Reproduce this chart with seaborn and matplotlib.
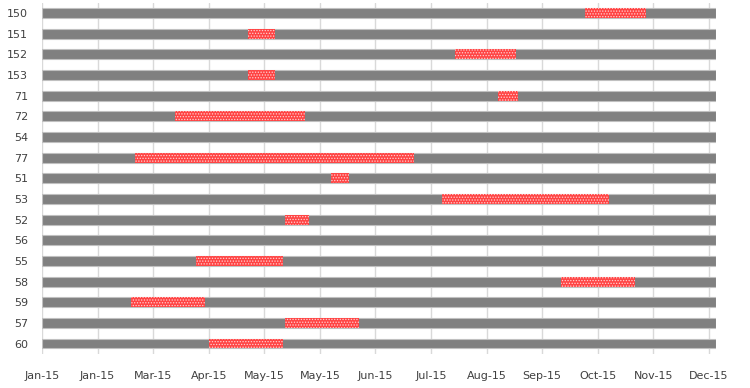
import pandas as pd
import matplotlib
matplotlib.use("Agg")
import matplotlib.pyplot as plt
import matplotlib.ticker as mticker
import seaborn as sns

# rows top to bottom
rows = ["150", "151", "152", "153", "71", "72", "54", "77", "51", "53",
        "52", "56", "55", "58", "59", "57", "60"]

# red segment per row (None = no segment)
seg_start = ["2015-10-21", "2015-04-22", "2015-08-12", "2015-04-22", "2015-09-04",
             "2015-03-14", None, "2015-02-20", "2015-06-06", "2015-08-05",
             "2015-05-12", None, "2015-03-25", "2015-10-08", "2015-02-18",
             "2015-05-12", "2015-04-01"]
seg_end = ["2015-11-23", "2015-05-07", "2015-09-14", "2015-05-07", "2015-09-15",
           "2015-05-23", None, "2015-07-21", "2015-06-16", "2015-11-03",
           "2015-05-25", None, "2015-05-11", "2015-11-17", "2015-03-30",
           "2015-06-21", "2015-05-11"]

axis_start = pd.Timestamp("2015-01-01")
axis_end = pd.Timestamp("2015-12-31")
tick_step = 30  # days

full_len = (axis_end - axis_start).days
df = pd.DataFrame({"row": rows, "full": full_len})

sns.set_style("white")
plt.rcParams["font.family"] = ["DejaVu Sans"]
plt.rcParams["hatch.linewidth"] = 0.6

fig, ax = plt.subplots(figsize=(7.5, 3.88), dpi=100)
fig.subplots_adjust(left=0.056, right=0.955, top=0.993, bottom=0.088)

sns.barplot(data=df, x="full", y="row", order=rows, orient="h", color="#808080",
            saturation=1, width=0.48, edgecolor="#c0c0c0", linewidth=0.8, ax=ax, zorder=2)

for i, (s, e) in enumerate(zip(seg_start, seg_end)):
    if s is None:
        continue
    left = (pd.Timestamp(s) - axis_start).days
    width = (pd.Timestamp(e) - pd.Timestamp(s)).days
    ax.barh(i, width, left=left, height=0.48, color="#ff4444", edgecolor="#ffd0d0",
            hatch="......", linewidth=0, zorder=3)

ticks = list(range(0, full_len + 1, tick_step))
ax.set_xticks(ticks)
ax.xaxis.set_major_formatter(mticker.FuncFormatter(
    lambda v, p: (axis_start + pd.Timedelta(days=v)).strftime("%b-%y")))
ax.set_xlim(0, full_len)
ax.set_ylim(len(rows) - 0.5, -0.5)

ax.grid(axis="x", color="#d9d9d9", linewidth=1, zorder=0)
ax.set_axisbelow(True)
for sp in ax.spines.values():
    sp.set_visible(False)
ax.set_xlabel("")
ax.set_ylabel("")
ax.tick_params(axis="both", length=0, labelsize=8, colors="#404040")
ax.tick_params(axis="y", pad=10)
ax.tick_params(axis="x", pad=12)

fig.savefig("out.png", dpi=100)
